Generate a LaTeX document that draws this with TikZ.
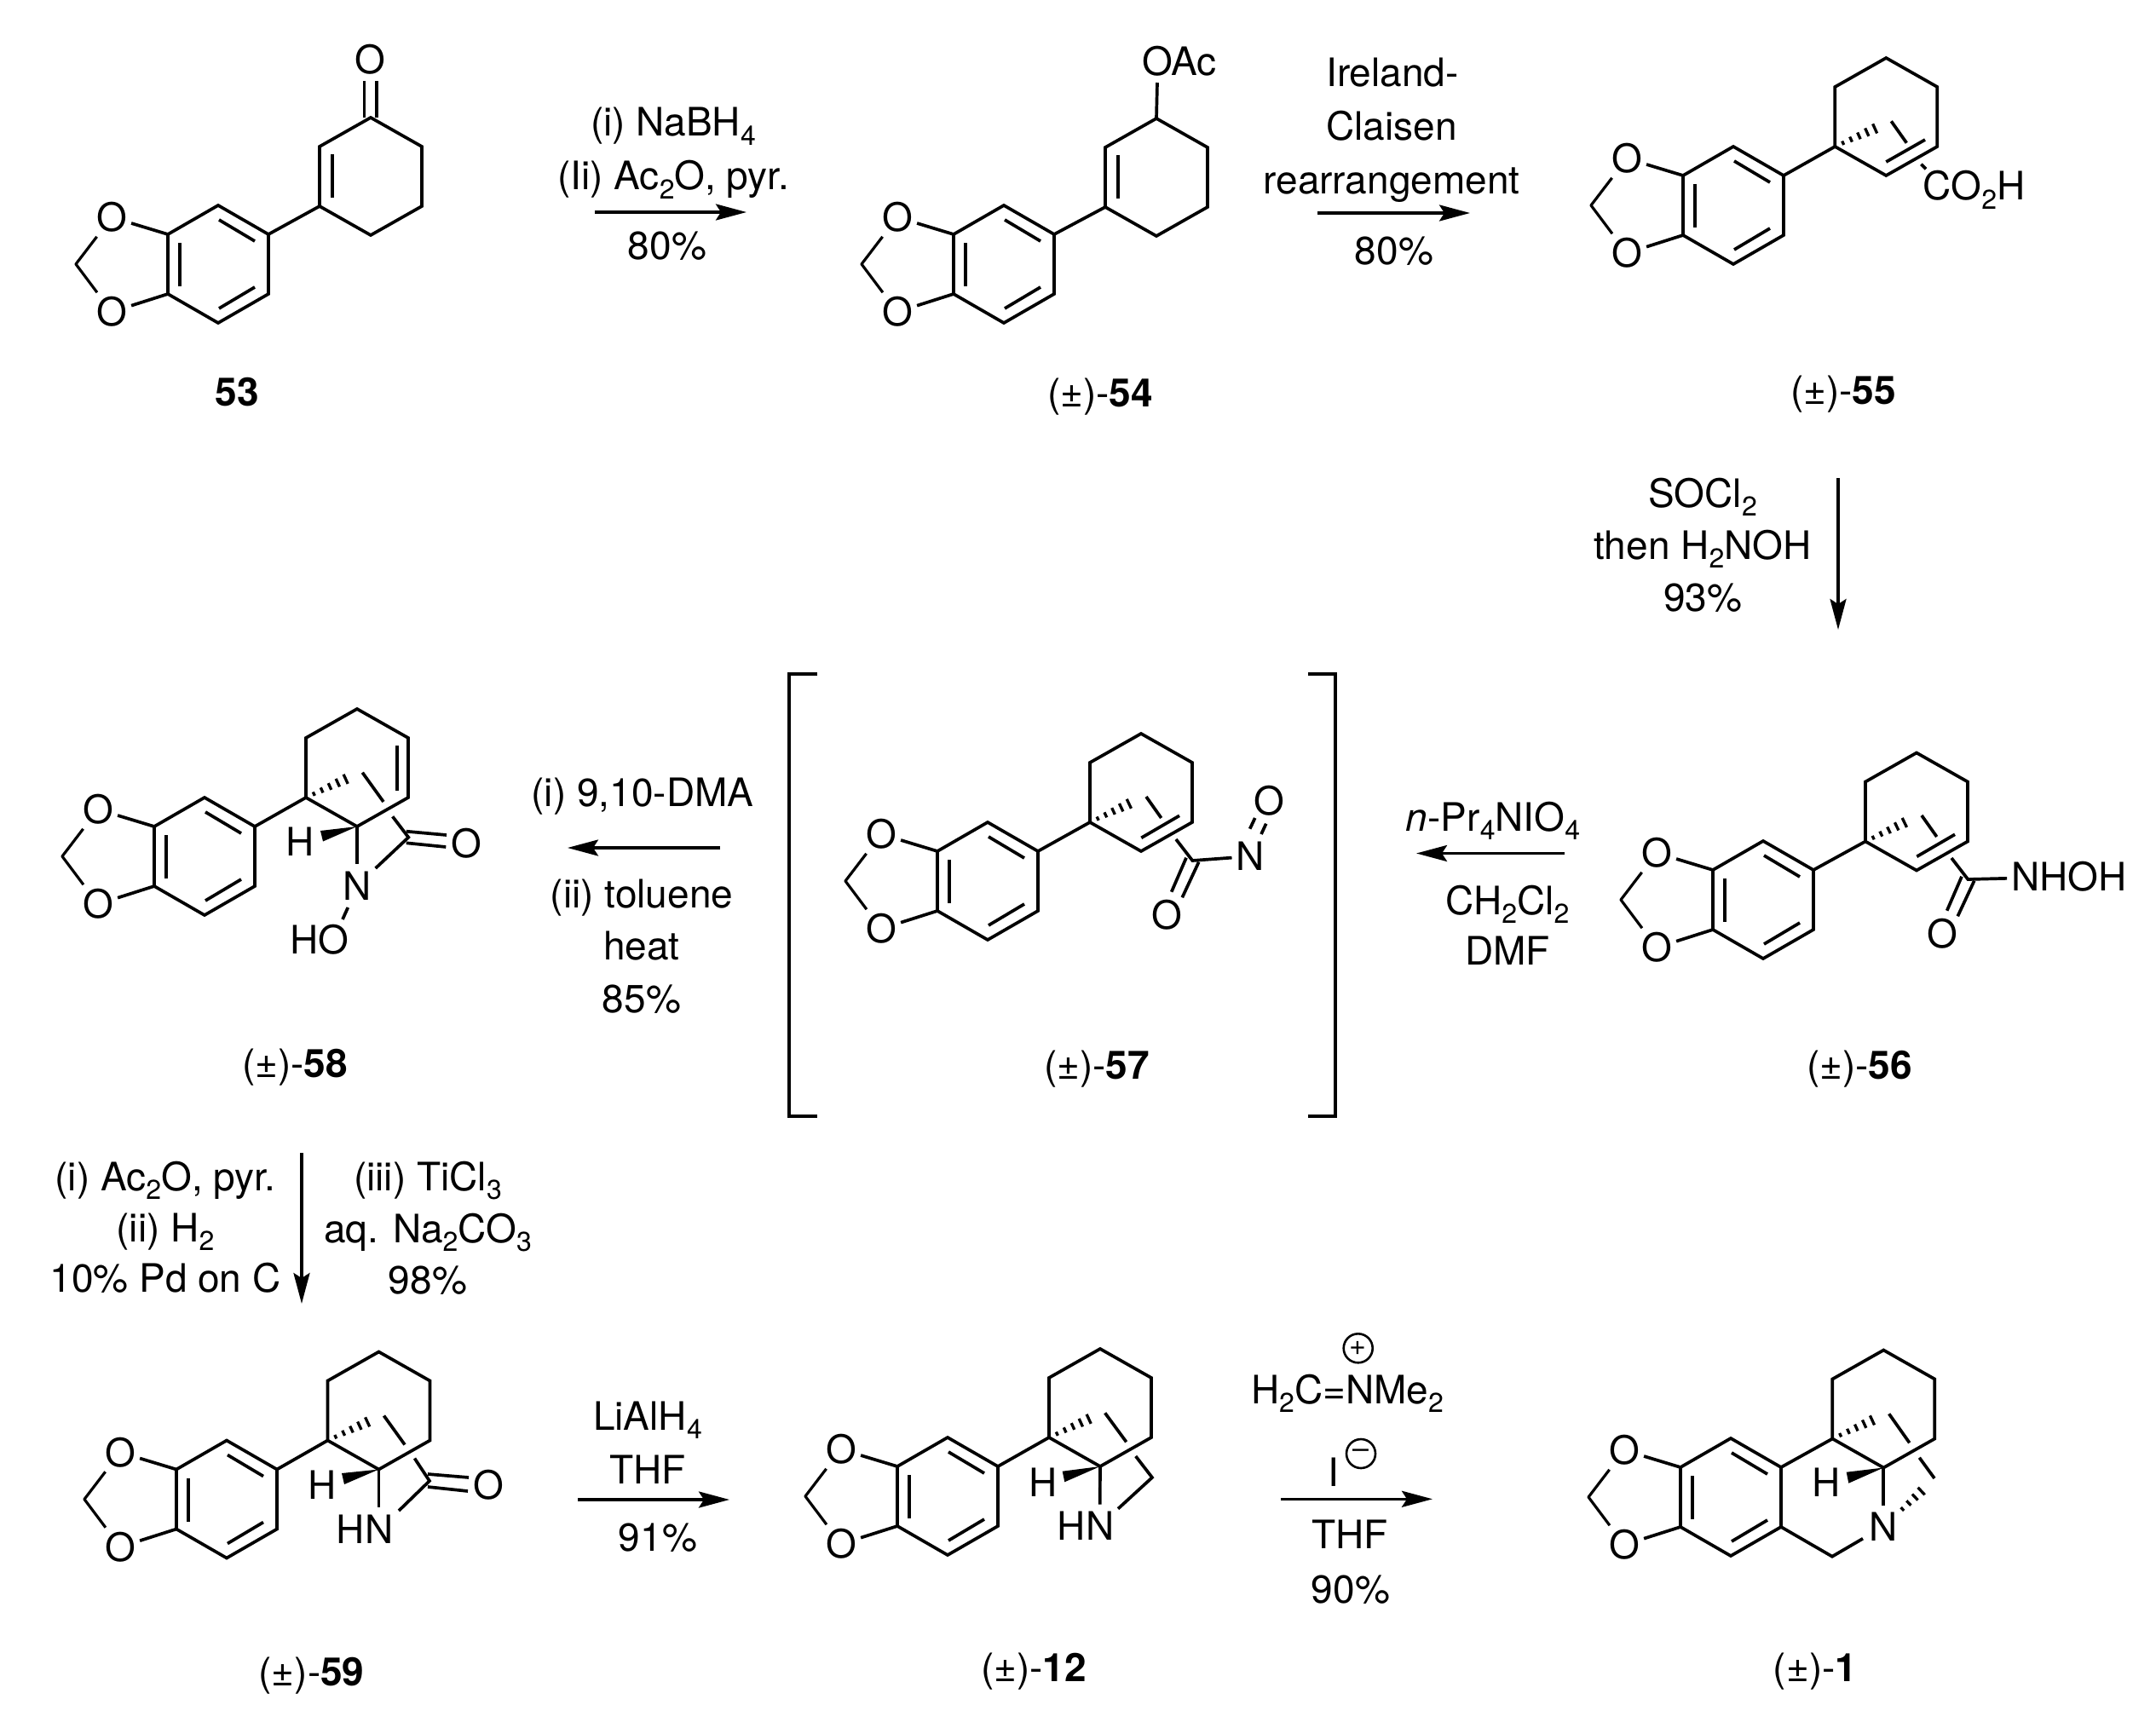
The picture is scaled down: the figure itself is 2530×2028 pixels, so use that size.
\documentclass[tikz,border=0pt]{standalone}
\usepackage{fontspec}
\setmainfont{TeX Gyre Heros}
\usetikzlibrary{calc,arrows.meta}
\newcommand{\sbt}[1]{\raisebox{-0.22em}{\fontsize{32}{32}\selectfont #1}}
\tikzset{
  bond/.style={line width=3.7pt,line join=miter,line cap=butt},
  hashline/.style={line width=3.3pt},
  atom/.style={inner sep=5pt,font=\fontsize{46}{50}\selectfont},
  txt/.style={inner sep=0pt,anchor=base,font=\fontsize{46}{50}\selectfont},
  rxn/.style={line width=3.5pt,-{Stealth[length=36pt,width=19pt,inset=6pt]}},
  brk/.style={line width=4.2pt,line join=miter},
  charge/.style={circle,draw,line width=2.6pt,minimum size=34pt,inner sep=0pt,font=\fontsize{34}{34}\selectfont}
}
% text line, given the centre of its capitals
\newcommand{\lbl}[4]{\node[txt] (#1) at (#2,{#3+16}) {#4};}
\newcommand{\cpd}[4]{\node[txt] (#1) at (#2,{#3+16}) {(±)-\textbf{#4}};}
% benzodioxole unit: prefix, centre of the benzene ring
\newcommand{\arylunit}[3]{%
  \begin{scope}[shift={(#2,#3)}]
    \coordinate (#1a1) at (0,-69);
    \coordinate (#1a2) at (59,-35);
    \coordinate (#1a3) at (59,35);
    \coordinate (#1a4) at (0,69);
    \coordinate (#1a5) at (-59,35);
    \coordinate (#1a6) at (-59,-35);
    \coordinate (#1ch) at (-167,0);
    \node[atom] (#1Ot) at (-125,-55) {O};
    \node[atom] (#1Ob) at (-125,56) {O};
    \draw[bond] (#1a1) -- (#1a2) -- (#1a3) -- (#1a4) -- (#1a5) -- (#1a6) -- cycle;
    \draw[bond] (-45,-25) -- (-45,26);
    \draw[bond] (1,-52) -- (43,-27);
    \draw[bond] (1,52) -- (43,27);
    \draw[bond] (#1a6) -- (#1Ot);
    \draw[bond] (#1a5) -- (#1Ob);
    \draw[bond,line width=3.2pt,line join=round] (#1Ot) -- (#1ch) -- (#1Ob);
  \end{scope}}
% six ring: prefix, centre
\newcommand{\sixring}[3]{%
  \begin{scope}[shift={(#2,#3)}]
    \coordinate (#1c1) at (0,-69);
    \coordinate (#1c2) at (60,-35);
    \coordinate (#1c3) at (60,35);
    \coordinate (#1c4) at (0,69);
    \coordinate (#1c5) at (-60,35);
    \coordinate (#1c6) at (-60,-35);
    \coordinate (#1hh) at (-4,9);
    \draw[bond] (#1c1) -- (#1c2) -- (#1c3) -- (#1c4) -- (#1c5) -- (#1c6) -- cycle;
  \end{scope}}
% hashed bond with [n] ticks, narrow at #2, wide at #3
\newcommand{\hashb}[3][6]{%
  \foreach \t in {1,...,#1}{%
    \pgfmathsetmacro\f{\t/#1}%
    \pgfmathsetmacro\w{1.5+\t*5.5/#1}%
    \coordinate (hp) at ($(#2)!\f!(#3)$);
    \draw[hashline] ($(hp)!\w pt!90:(#3)$) -- ($(hp)!\w pt!-90:(#3)$);
  }}
\begin{document}
\begin{tikzpicture}[x=1pt,y=-1pt]
\useasboundingbox (0,0) rectangle (2530,2028);

%% 53
\arylunit{A}{256}{310}
\sixring{B}{435}{207}
\draw[bond] (Aa2) -- (Bc5);
\draw[bond] (390,181) -- (390,232);
\node[atom] (Bo) at (434,70) {O};
\draw[bond] (427.6,95) -- (427.6,138);
\draw[bond] (442,95) -- (442,138);
\node[txt,font=\fontsize{46}{50}\selectfont\bfseries] (L53) at (278,476) {53};

%% arrow 1
\coordinate (r1s) at (698,249); \coordinate (r1e) at (876,249);
\draw[rxn] (r1s) -- (r1e);
\lbl{t1a}{790}{144}{(i) NaBH\sbt{4}}
\lbl{t1b}{790}{207}{(Ii) Ac\sbt{2}O, pyr.}
\lbl{t1c}{783}{288}{80\%}

%% 54
\arylunit{C}{1178}{310}
\sixring{D}{1357}{208}
\draw[bond] (Ca2) -- (Dc5);
\draw[bond] (1312,182) -- (1312,233);
\node[atom] (Do) at (1384,72) {OAc};
\coordinate (Dob) at (1358,97);
\draw[bond] (Dc1) -- (Dob);
\cpd{L54}{1291}{461}{54}

%% arrow 2
\coordinate (r2s) at (1546,250); \coordinate (r2e) at (1725,250);
\draw[rxn] (r2s) -- (r2e);
\lbl{t2a}{1634}{86}{Ireland-}
\lbl{t2b}{1633}{149}{Claisen}
\lbl{t2c}{1633}{212}{rearrangement}
\lbl{t2d}{1636}{294}{80\%}

%% 55
\arylunit{E}{2034}{241}
\sixring{F}{2213.3}{137}
\draw[bond] (Ea2) -- (Fc5);
\draw[bond] (2213.3,190) -- (2259,164);
\coordinate (Fh) at (2209.5,146.7);
\hashb{Fc5}{Fh}
\draw[bond] (2219.3,142.3) -- (2237.3,167.7);
\draw[bond] (2254.3,192.7) -- (2260,198.3);
\lbl{Fco}{2316.7}{219}{CO\sbt{2}H}
\cpd{L55}{2163}{458}{55}

%% arrow 3
\coordinate (r3s) at (2157,561); \coordinate (r3e) at (2157,739);
\draw[rxn] (r3s) -- (r3e);
\lbl{t3a}{1998}{579}{SOCl\sbt{2}}
\lbl{t3b}{1998}{640}{then H\sbt{2}NOH}
\lbl{t3c}{1998}{701}{93\%}

%% 56
\arylunit{G}{2069}{1056}
\sixring{H}{2249}{952.5}
\draw[bond] (Ga2) -- (Hc5);
\draw[bond] (2249.3,1005.3) -- (2294,979.3);
\coordinate (Hh) at (2244,961);
\hashb{Hc5}{Hh}
\draw[bond] (2255,957) -- (2272.7,982);
\coordinate (Hcc) at (2309.3,1032);
\node[atom] (Hn) at (2428,1029) {NHOH};
\node[atom] (Ho) at (2279.5,1096) {O};
\draw[bond] (2290,1007) -- (Hcc) -- (Hn);
\draw[bond] (2302,1028.7) -- (2284.7,1068.7);
\draw[bond] (2316.7,1033.7) -- (2297.3,1075.3);
\cpd{L56}{2182}{1250}{56}

%% arrow 4
\coordinate (r4s) at (1836,1001.5); \coordinate (r4e) at (1662,1001.5);
\draw[rxn] (r4s) -- (r4e);
\node[txt] (t4a) at (1752,975) {\textit{n}-Pr\sbt{4}NIO\sbt{4}};
\lbl{t4b}{1769}{1057}{CH\sbt{2}Cl\sbt{2}}
\lbl{t4c}{1769}{1116}{DMF}

%% 57 with brackets
\coordinate (b1) at (959,791); \coordinate (b2) at (926,791);
\coordinate (b3) at (926,1310); \coordinate (b4) at (959,1310);
\draw[brk] (b1) -- (b2) -- (b3) -- (b4);
\coordinate (b5) at (1535,791); \coordinate (b6) at (1567,791);
\coordinate (b7) at (1567,1310); \coordinate (b8) at (1535,1310);
\draw[brk] (b5) -- (b6) -- (b7) -- (b8);
\arylunit{I}{1159}{1034}
\sixring{J}{1339}{930}
\draw[bond] (Ia2) -- (Jc5);
\draw[bond] (1339.3,983.3) -- (1384,957.3);
\coordinate (Jh) at (1334,939);
\hashb{Jc5}{Jh}
\draw[bond] (1345,935) -- (1362.7,960);
\coordinate (Jcc) at (1399.3,1010);
\node[atom] (Jn) at (1467.3,1005) {N};
\node[atom] (Jo) at (1369.3,1074) {O};
\node[atom] (Jo2) at (1489.3,940) {O};
\draw[bond] (1380,985) -- (Jcc) -- (Jn);
\draw[bond] (1392,1006.7) -- (1374.7,1046.7);
\draw[bond] (1406.7,1011.7) -- (1387.3,1053.3);
\draw[bond] (1472.7,960) -- (1466.7,972.7);
\draw[bond] (1485.7,966.7) -- (1480,979);
\cpd{L57}{1287}{1250}{57}

%% arrow 5
\coordinate (r5s) at (845,995); \coordinate (r5e) at (666,995);
\draw[rxn] (r5s) -- (r5e);
\lbl{t5a}{754}{930}{(i) 9,10-DMA}
\lbl{t5b}{753}{1049}{(ii) toluene}
\lbl{t5c}{753}{1110}{heat}
\lbl{t5d}{753}{1172.5}{85\%}

%% 58
\arylunit{K}{240}{1005}
\sixring{M}{419}{901}
\draw[bond] (Ka2) -- (Mc5);
\draw[bond] (465.7,875) -- (465.7,927.7);
\hashb{Mc5}{Mhh}
\draw[bond] (425.3,906.7) -- (450,941);
\fill (Mc4) -- (376,975) -- (379,987.5) -- cycle;
\node[atom] (MH) at (352.3,988) {H};
\node[atom] (Mn) at (419,1039.3) {N};
\coordinate (Mcc) at (479.3,982.7);
\coordinate (Mna) at (419,1014);
\draw[bond] (Mc4) -- (Mna);
\coordinate (Mnb) at (440.7,1019);
\coordinate (Mca) at (460.7,958.3);
\draw[bond] (Mca) -- (Mcc) -- (Mnb);
\draw[bond] (476.7,975.7) -- (524,980);
\draw[bond] (476.7,989.3) -- (523.3,994);
\node[atom] (Mo) at (547.7,990) {O};
\draw[bond] (408.3,1065) -- (402,1079);
\node[atom] (Mho) at (375,1102.7) {HO};
\cpd{L58}{346}{1248}{58}

%% arrow 6
\coordinate (r6s) at (354,1353); \coordinate (r6e) at (354,1530);
\draw[rxn] (r6s) -- (r6e);
\lbl{t6a}{194}{1381}{(i) Ac\sbt{2}O, pyr.}
\lbl{t6b}{194}{1441}{(ii) H\sbt{2}}
\lbl{t6c}{194}{1500.6}{10\% Pd on C}
\lbl{t6d}{502}{1381}{(iii) TiCl\sbt{3}}
\lbl{t6e}{502}{1442}{aq. Na\sbt{2}CO\sbt{3}}
\lbl{t6f}{502}{1502}{98\%}

%% 59
\arylunit{P}{266}{1759.5}
\sixring{Q}{444.5}{1655.5}
\draw[bond] (Pa2) -- (Qc5);
\hashb{Qc5}{Qhh}
\draw[bond] (450.5,1661.5) -- (475,1695.5);
\fill (Qc4) -- (401,1729) -- (404,1742) -- cycle;
\node[atom] (QH) at (378,1743) {H};
\node[atom] (Qn) at (428,1794.5) {HN};
\coordinate (Qcc) at (504,1738);
\coordinate (Qnb) at (444.5,1769);
\coordinate (Qnc) at (468,1773);
\draw[bond] (Qc4) -- (Qnb);
\draw[bond] (486.5,1711.5) -- (Qcc) -- (Qnc);
\draw[bond] (502,1730) -- (550,1734);
\draw[bond] (502,1745) -- (549,1750);
\node[atom] (Qo) at (573,1743) {O};
\cpd{L59}{365.5}{1962}{59}

%% arrow 7
\coordinate (r7s) at (678,1760); \coordinate (r7e) at (856,1760);
\draw[rxn] (r7s) -- (r7e);
\lbl{t7a}{760}{1662}{LiAlH\sbt{4}}
\lbl{t7b}{760}{1725}{THF}
\lbl{t7c}{772}{1804}{91\%}

%% 12
\arylunit{R}{1112}{1756}
\sixring{S}{1291}{1652}
\draw[bond] (Ra2) -- (Sc5);
\hashb{Sc5}{Shh}
\draw[bond] (1296.7,1658.3) -- (1321.7,1692.3);
\fill (Sc4) -- (1246.7,1726.7) -- (1249.3,1739.3) -- cycle;
\node[atom] (SH) at (1223.7,1739.3) {H};
\node[atom] (Sn) at (1274,1790.7) {HN};
\coordinate (Snb) at (1290.7,1765.7);
\coordinate (Snc) at (1312,1770.7);
\coordinate (Scc) at (1352,1734);
\draw[bond] (Sc4) -- (Snb);
\draw[bond] (1332.7,1709) -- (Scc) -- (Snc);
\cpd{L12}{1213}{1957}{12}

%% arrow 8
\coordinate (r8s) at (1503,1759.3); \coordinate (r8e) at (1681,1759.3);
\draw[rxn] (r8s) -- (r8e);
\node[charge] (cp) at (1593.7,1582.3) {+};
\lbl{t8a}{1581}{1631}{H\sbt{2}C=NMe\sbt{2}}
\lbl{t8b}{1565}{1728.3}{I}
\node[charge] (cm) at (1597,1706) {–};
\lbl{t8c}{1584}{1801}{THF}
\lbl{t8d}{1585}{1865}{90\%}

%% 1
\arylunit{U}{2031}{1757}
\sixring{V}{2210.3}{1653.5}
\draw[bond] (Ua2) -- (Vc5);
\hashb{Vc5}{Vhh}
\draw[bond] (2216.7,1659.3) -- (2240.7,1693.3);
\fill (Vc4) -- (2166.7,1727.7) -- (2169.3,1740.7) -- cycle;
\node[atom] (VH) at (2143.3,1740) {H};
\node[atom] (Vn) at (2210,1792) {N};
\coordinate (Vcc) at (2150,1826.7);
\coordinate (Vna) at (2186,1805.7);
\coordinate (Vnb) at (2210.3,1766.7);
\coordinate (Vrb) at (2270,1735);
\coordinate (Vhn) at (2225,1778);
\coordinate (Vhw) at (2262,1743);
\draw[bond] (Vc4) -- (Vnb);
\draw[bond] (Ua3) -- (Vcc) -- (Vna);
\draw[bond] (2252.3,1710.7) -- (Vrb);
\hashb[5]{Vhn}{Vhw}
\node[txt] (L1) at (2130,1973) {(±)-\textbf{1}};

\end{tikzpicture}
\end{document}
